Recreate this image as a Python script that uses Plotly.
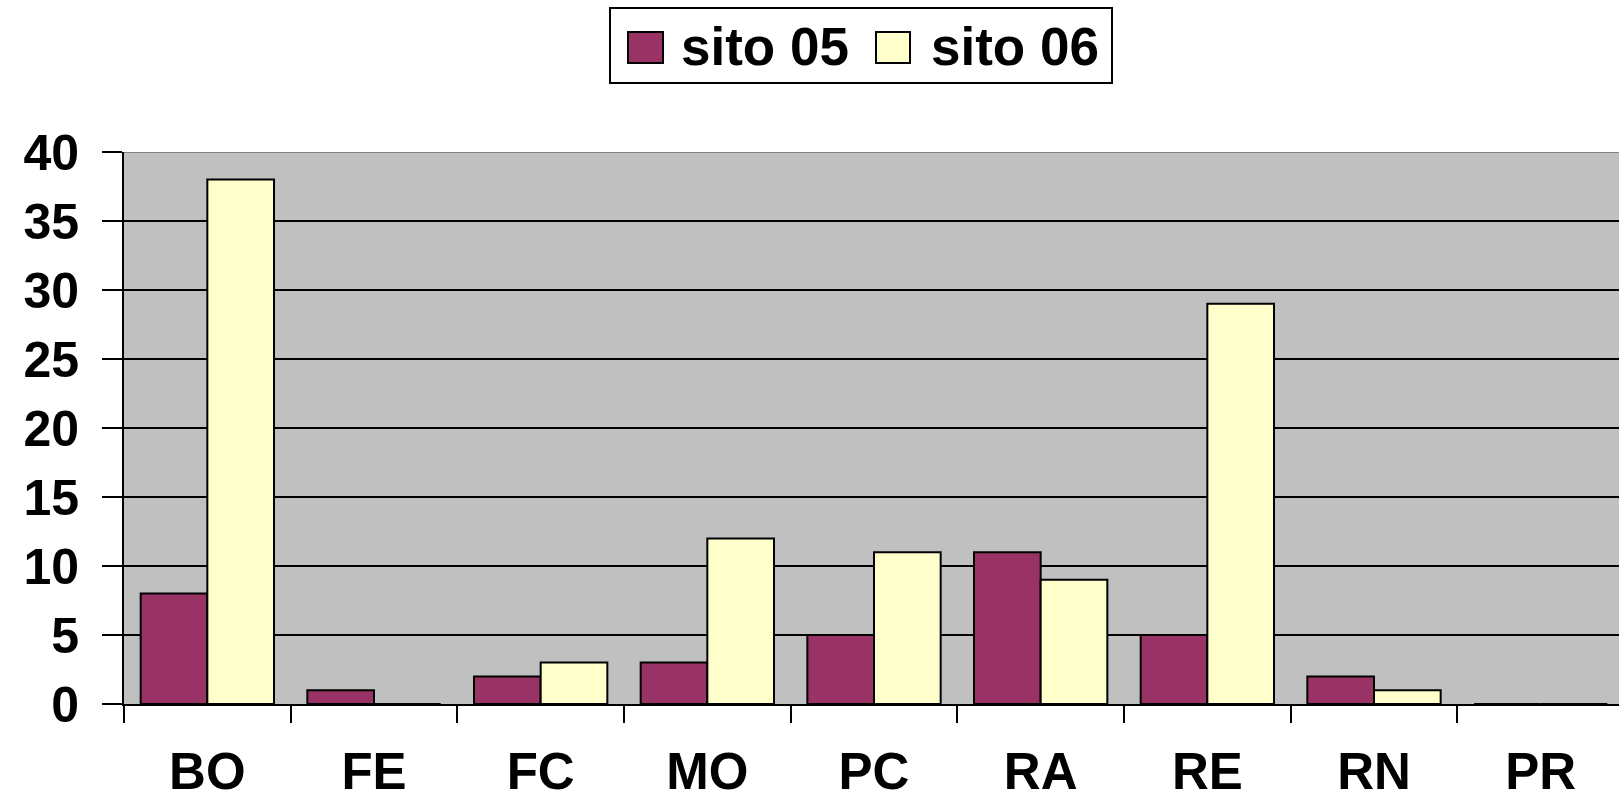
import plotly.graph_objects as go

categories = ["BO", "FE", "FC", "MO", "PC", "RA", "RE", "RN", "PR"]
sito05 = [8, 1, 2, 3, 5, 11, 5, 2, 0]
sito06 = [38, 0, 3, 12, 11, 9, 29, 1, 0]
series_names = ["sito 05", "sito 06"]
series_colors = ["#993366", "#FFFFCC"]
y_ticks = [0, 5, 10, 15, 20, 25, 30, 35, 40]

FONT = "Liberation Sans"

W, H = 1619, 800
ML, MR, MT, MB = 124, 0, 152, 96
PW, PH = W - ML - MR, H - MT - MB


def px(fx):
    return (fx - ML) / PW


def py(fy):
    return (H - MB - fy) / PH


fig = go.Figure()
for name, vals, col in zip(series_names, [sito05, sito06], series_colors):
    fig.add_trace(go.Bar(x=categories, y=vals, name=name,
                         marker=dict(color=col, line=dict(color="black", width=2))))

# manual legend (large swatches like the original)
shapes = [
    dict(type="rect", xref="paper", yref="paper",
         x0=px(610), x1=px(1112), y0=py(8), y1=py(83),
         fillcolor="white", line=dict(color="black", width=2), layer="above"),
    dict(type="rect", xref="paper", yref="paper",
         x0=px(628), x1=px(663), y0=py(32), y1=py(63),
         fillcolor=series_colors[0], line=dict(color="black", width=2), layer="above"),
    dict(type="rect", xref="paper", yref="paper",
         x0=px(876), x1=px(910), y0=py(32), y1=py(63),
         fillcolor=series_colors[1], line=dict(color="black", width=2), layer="above"),
    dict(type="line", xref="paper", yref="y", x0=0, x1=1, y0=40, y1=40,
         line=dict(color="#808080", width=2), layer="above"),
]
annotations = [
    dict(text=series_names[0], xref="paper", yref="paper", x=px(765), y=py(46),
         xanchor="center", yanchor="middle", showarrow=False,
         font=dict(family=FONT, size=53, color="black", weight="bold")),
    dict(text=series_names[1], xref="paper", yref="paper", x=px(1015), y=py(46),
         xanchor="center", yanchor="middle", showarrow=False,
         font=dict(family=FONT, size=53, color="black", weight="bold")),
]

fig.update_layout(
    width=W, height=H,
    margin=dict(l=ML, r=MR, t=MT, b=MB, pad=0, autoexpand=False),
    paper_bgcolor="white",
    plot_bgcolor="#C0C0C0",
    barmode="group",
    bargap=0.2,
    bargroupgap=0,
    font=dict(family=FONT, color="black", size=50, weight="bold"),
    showlegend=False,
    xaxis=dict(
        type="category",
        range=[-0.5, 8.47],
        automargin=False,
        showline=True, linecolor="black", linewidth=2,
        ticks="outside", ticklen=17, tickwidth=2, tickcolor="black",
        tickson="boundaries",
        showgrid=False,
        tickfont=dict(family=FONT, size=51, color="black", weight="bold"),
        ticklabelstandoff=22,
    ),
    yaxis=dict(
        range=[0, 40],
        tickvals=y_ticks,
        automargin=False,
        showline=True, linecolor="black", linewidth=2,
        ticks="outside", ticklen=20, tickwidth=2, tickcolor="black",
        showgrid=True, gridcolor="black", gridwidth=2,
        zeroline=False,
        tickfont=dict(family=FONT, size=50, color="black", weight="bold"),
        ticklabelstandoff=13,
    ),
    shapes=shapes,
    annotations=annotations,
)

fig.write_html("out.html", config={"displayModeBar": False},
               post_script="document.body.style.margin='0';document.body.style.overflow='hidden';")
